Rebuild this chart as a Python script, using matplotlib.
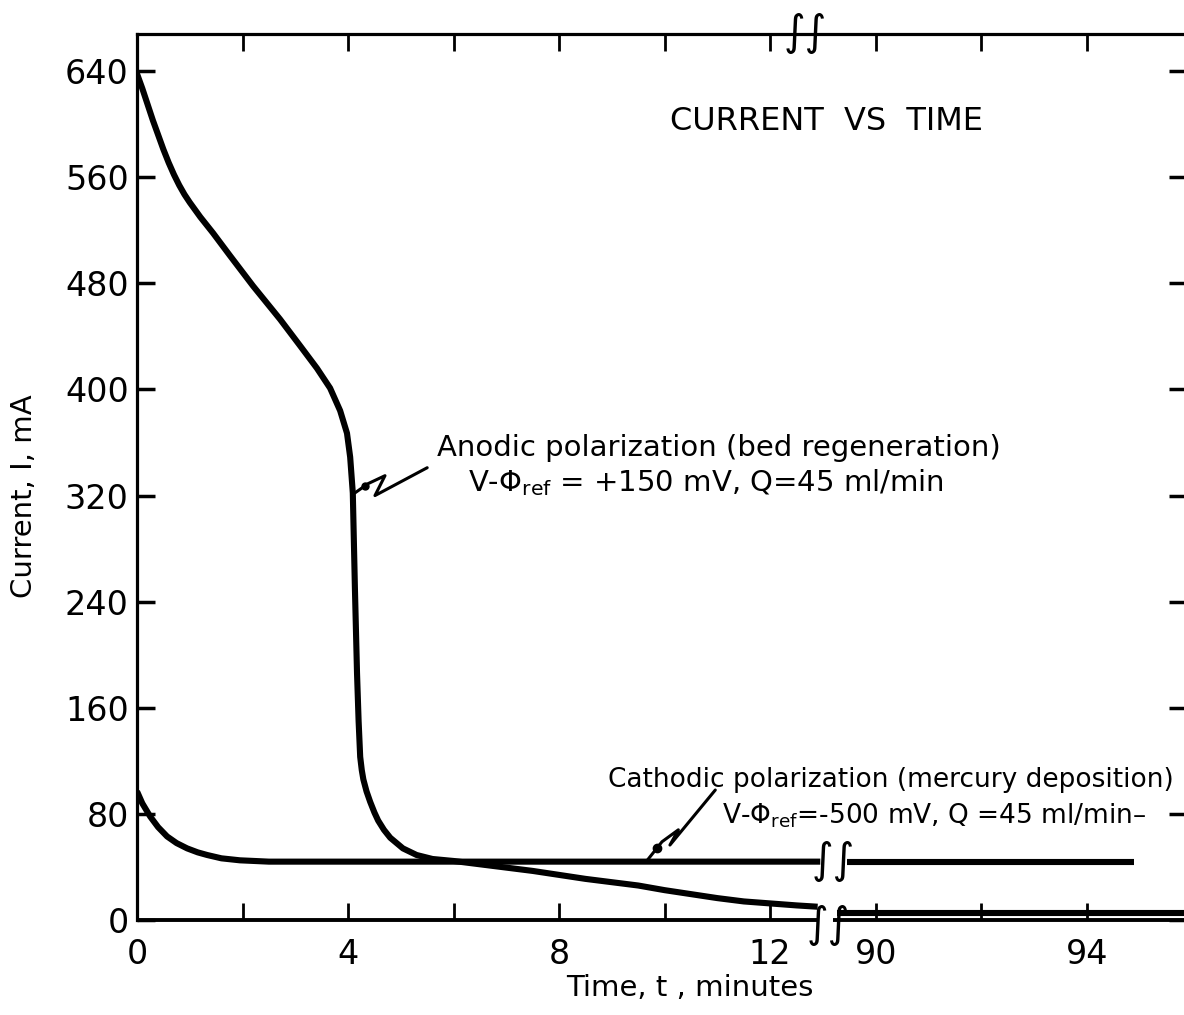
import numpy as np
import matplotlib
matplotlib.use("Agg")
import matplotlib.pyplot as plt

plt.rcParams["font.family"] = ["DejaVu Sans"]
plt.rcParams["mathtext.fontset"] = "dejavusans"

# Anodic polarization (bed regeneration): current in mA vs time in minutes
anodic_t_early = [0.0, 0.1, 0.2, 0.3, 0.4, 0.5, 0.6, 0.7, 0.8, 0.9, 1.0, 1.2,
                  1.44, 1.76, 2.2, 2.71, 3.09, 3.41, 3.66, 3.85, 3.98, 4.04, 4.09,
                  4.13, 4.17, 4.2, 4.23, 4.26, 4.29, 4.35, 4.42, 4.5, 4.57, 4.68,
                  4.8, 5.04, 5.3, 5.6, 6.0, 6.5, 7.0, 7.5, 8.0, 8.5, 9.0, 9.5,
                  10.0, 10.5, 11.0, 11.5, 12.0, 12.5, 12.9]
anodic_i_early = [638, 627, 615, 603, 592, 581, 571, 562, 554, 547, 541, 530,
                  518, 501, 478, 453, 433, 416, 401, 384, 367, 349, 322,
                  250, 186, 150, 123, 113, 106, 97, 89, 81, 75, 68,
                  62, 54, 49, 46, 44.5, 42, 39.5, 37, 34, 31, 28.5, 26,
                  22.5, 19.5, 16.5, 14, 12.5, 11, 10]
anodic_t_late = [89.27, 96.5]
anodic_i_late = [5, 5]

# Cathodic polarization (mercury deposition)
cathodic_t_early = [0.0, 0.1, 0.25, 0.4, 0.57, 0.75, 0.95, 1.15, 1.33, 1.6, 1.95, 2.5, 12.95]
cathodic_i_early = [97, 88, 78, 70, 63, 58, 54, 51, 49, 46.5, 45, 44, 44]
cathodic_t_late = [89.46, 94.9]
cathodic_i_late = [44, 44]

x_tick_values = [0, 2, 4, 6, 8, 10, 12, 90, 92, 94]
x_tick_labels = ["0", "", "4", "", "8", "", "12", "90", "", "94"]
y_tick_values = [0, 80, 160, 240, 320, 400, 480, 560, 640]

# Broken time axis: 13 -> 89 min is collapsed
BREAK_LO, BREAK_HI = 13.0, 89.0
GAP = BREAK_HI - BREAK_LO


def forward(t):
    t = np.asarray(t, dtype=float)
    return np.where(t <= BREAK_LO, t,
                    np.where(t >= BREAK_HI, t - GAP, BREAK_LO))


def inverse(c):
    c = np.asarray(c, dtype=float)
    return np.where(c <= BREAK_LO, c, c + GAP)


W, H = 1184, 1015
fig = plt.figure(figsize=(W / 100, H / 100), dpi=100)
fig.patch.set_facecolor("white")


def px(x, y):
    return x / W, 1 - y / H


ax = fig.add_axes([137 / W, 95 / H, (1187 - 137) / W, (920 - 34) / H])
ax.set_xscale("function", functions=(forward, inverse))
ax.set_xlim(0, 95.9)
ax.set_ylim(0, 668)

for side in ("left", "top", "right"):
    ax.spines[side].set_linewidth(2.3)
ax.spines["bottom"].set_visible(False)

# bottom axis line drawn in two pieces around the break
xt = ax.get_xaxis_transform()
ax.plot([0, 12.9], [0, 0], transform=xt, color="k", lw=2.8, clip_on=False,
        solid_capstyle="butt")
ax.plot([89.2, 95.9], [0, 0], transform=xt, color="k", lw=2.8, clip_on=False,
        solid_capstyle="butt")

ax.set_xticks(x_tick_values)
ax.set_xticklabels(x_tick_labels)
ax.xaxis.set_minor_locator(matplotlib.ticker.NullLocator())
ax.set_yticks(y_tick_values)
ax.tick_params(axis="x", direction="in", length=12, width=2, top=True,
               bottom=True, pad=13, labelsize=24)
ax.tick_params(axis="y", direction="in", length=13, width=2.5, left=True,
               right=True, pad=6, labelsize=24)

line_kw = dict(color="k", lw=4.4, solid_joinstyle="round", solid_capstyle="butt")
ax.plot(anodic_t_early, anodic_i_early, **line_kw)
ax.plot(anodic_t_late, anodic_i_late, clip_on=False, **line_kw)
ax.plot(cathodic_t_early, cathodic_i_early, **line_kw)
ax.plot(cathodic_t_late, cathodic_i_late, **line_kw)

# leader squiggles pointing at each curve
lead_kw = dict(color="k", lw=2.2, solid_joinstyle="round", solid_capstyle="round")
ax.plot([4.13, 4.38, 4.70, 4.51, 5.50], [322, 329, 335, 320, 341], **lead_kw)
ax.plot([4.32], [327], marker="o", ms=5, color="k")
ax.plot([9.67, 9.95, 10.26, 10.10, 10.96], [45, 59, 68, 56.5, 98], **lead_kw)
ax.plot([9.85], [54], marker="o", ms=6, color="k")

# text
fig.text(*px(826, 121), "CURRENT  VS  TIME", ha="center", va="center", fontsize=23)
fig.text(*px(24, 496), "Current, I, mA", rotation=90, ha="center", va="center",
         fontsize=21)
fig.text(*px(690, 988), "Time, t , minutes", ha="center", va="center", fontsize=21)

fig.text(*px(437, 456), "Anodic polarization (bed regeneration)", ha="left",
         va="baseline", fontsize=21)
fig.text(*px(468, 491), r"V-$\Phi_{\mathrm{ref}}$ = +150 mV, Q=45 ml/min",
         ha="left", va="baseline", fontsize=21)
fig.text(*px(608, 787), "Cathodic polarization (mercury deposition)", ha="left",
         va="baseline", fontsize=19)
fig.text(*px(722, 823), r"V-$\Phi_{\mathrm{ref}}$=-500 mV, Q =45 ml/min–",
         ha="left", va="baseline", fontsize=19)

# axis-break marks
for (bx, by) in [(805, 33), (833, 861), (828, 925)]:
    fig.text(*px(bx, by), "∫∫", ha="center", va="center", fontsize=30)

fig.savefig("out.png", dpi=100, facecolor="white")
